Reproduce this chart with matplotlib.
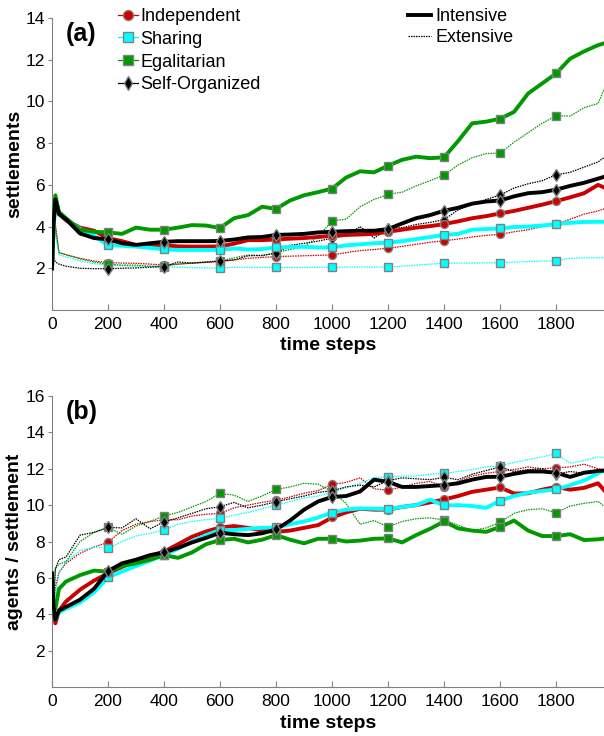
import matplotlib
matplotlib.use("Agg")
import matplotlib.pyplot as plt
from matplotlib.lines import Line2D

plt.rcParams['font.family'] = ['Liberation Sans', 'DejaVu Sans']

# time grid shared by every series
t = [0, 5, 12, 25, 50, 100, 150, 200, 250, 300, 350, 400, 450, 500, 550, 600,
     650, 700, 750, 800, 850, 900, 950, 1000, 1050, 1100, 1150, 1200, 1250, 1300,
     1350, 1400, 1450, 1500, 1550, 1600, 1650, 1700, 1750, 1800, 1850, 1900, 1950, 1975]

strategies = ["Independent", "Sharing", "Egalitarian", "Self-Organized"]
modes = ["Intensive", "Extensive"]
x_ticks = [0, 200, 400, 600, 800, 1000, 1200, 1400, 1600, 1800]
marker_steps = [200, 400, 600, 800, 1000, 1200, 1400, 1600, 1800]

# (a) number of settlements
indep_int_a = [2.0, 4.0, 5.2, 4.6, 4.3, 3.95, 3.8, 3.45, 3.3, 3.12, 3.1, 3.1, 3.05, 3.04, 3.04, 3.05,
               3.18, 3.35, 3.35, 3.38, 3.42, 3.45, 3.5, 3.56, 3.6, 3.62, 3.65, 3.75, 3.85, 3.95,
               4.02, 4.12, 4.25, 4.4, 4.5, 4.63, 4.75, 4.9, 5.05, 5.22, 5.4, 5.6, 6.0, 5.85]
indep_ext_a = [2.0, 3.2, 4.1, 2.75, 2.65, 2.48, 2.35, 2.27, 2.25, 2.24, 2.2, 2.16, 2.2, 2.25, 2.28, 2.32,
               2.4, 2.48, 2.52, 2.56, 2.58, 2.6, 2.62, 2.64, 2.75, 2.85, 2.9, 2.96, 3.05, 3.15,
               3.25, 3.32, 3.4, 3.5, 3.58, 3.63, 3.75, 3.85, 4.0, 4.11, 4.35, 4.6, 4.75, 4.87]
share_int_a = [2.0, 3.8, 5.0, 4.6, 4.35, 3.9, 3.55, 3.11, 3.08, 3.04, 2.98, 2.91, 2.88, 2.88, 2.88, 2.88,
               2.95, 2.9, 2.92, 3.0, 3.02, 3.03, 3.0, 3.0, 3.1, 3.15, 3.2, 3.23, 3.3, 3.4,
               3.5, 3.6, 3.65, 3.85, 3.88, 3.91, 3.98, 4.0, 4.05, 4.12, 4.18, 4.22, 4.23, 4.23]
share_ext_a = [2.0, 3.0, 3.6, 2.65, 2.55, 2.35, 2.22, 2.16, 2.12, 2.1, 2.08, 2.08, 2.05, 2.03, 2.02, 2.0,
               2.05, 2.05, 2.05, 2.04, 2.04, 2.04, 2.05, 2.05, 2.06, 2.06, 2.06, 2.06, 2.1, 2.15,
               2.2, 2.24, 2.25, 2.25, 2.26, 2.27, 2.3, 2.32, 2.34, 2.36, 2.48, 2.5, 2.5, 2.51]
egal_int_a = [2.0, 4.5, 5.5, 4.7, 4.4, 3.85, 3.75, 3.72, 3.65, 3.95, 3.85, 3.85, 3.95, 4.07, 4.05, 3.93,
              4.4, 4.55, 4.95, 4.85, 5.25, 5.5, 5.65, 5.82, 6.35, 6.65, 6.6, 6.92, 7.2, 7.35,
              7.28, 7.32, 8.1, 8.95, 9.03, 9.17, 9.5, 10.38, 10.86, 11.34, 12.05, 12.4, 12.7, 12.8]
egal_ext_a = [2.0, 3.0, 4.0, 2.75, 2.65, 2.45, 2.3, 2.2, 2.15, 2.15, 2.1, 2.1, 2.2, 2.25, 2.3, 2.35,
              2.5, 2.64, 2.6, 2.75, 2.9, 3.05, 3.5, 4.28, 4.35, 4.95, 5.3, 5.54, 5.65, 5.95,
              6.2, 6.47, 6.95, 7.3, 7.5, 7.52, 8.05, 8.5, 8.95, 9.31, 9.3, 9.7, 9.9, 10.7]
self_int_a = [2.0, 4.0, 5.3, 4.6, 4.35, 3.67, 3.45, 3.39, 3.2, 3.12, 3.2, 3.27, 3.3, 3.3, 3.3, 3.31,
              3.38, 3.48, 3.5, 3.6, 3.62, 3.65, 3.72, 3.75, 3.78, 3.8, 3.8, 3.88, 4.15, 4.4,
              4.55, 4.76, 4.9, 5.1, 5.2, 5.25, 5.45, 5.6, 5.65, 5.77, 5.95, 6.1, 6.3, 6.4]
self_ext_a = [2.0, 2.6, 2.3, 2.2, 2.1, 2.0, 1.98, 1.98, 2.0, 2.02, 2.05, 2.08, 2.3, 2.25, 2.3, 2.35,
              2.4, 2.6, 2.62, 2.72, 3.1, 3.2, 3.3, 3.45, 3.55, 4.0, 3.45, 3.9, 3.95, 4.1,
              4.2, 4.33, 4.8, 5.05, 5.3, 5.51, 5.85, 6.05, 6.2, 6.48, 6.6, 6.85, 7.1, 7.35]

# (b) agents per settlement
indep_int_b = [6.0, 4.2, 3.5, 4.2, 4.7, 5.35, 5.85, 6.25, 6.6, 6.95, 7.2, 7.44, 7.85, 8.26, 8.55, 8.77,
               8.85, 8.75, 8.6, 8.53, 8.6, 8.75, 8.9, 9.32, 9.6, 9.8, 9.75, 9.75, 9.9, 10.0,
               10.15, 10.31, 10.5, 10.73, 10.85, 10.97, 10.64, 10.65, 10.85, 11.0, 10.85, 10.95, 11.2, 10.75]
indep_ext_b = [6.0, 4.2, 5.5, 6.3, 6.8, 7.35, 7.7, 7.95, 8.6, 8.95, 9.1, 9.18, 9.2, 9.4, 9.5, 9.54,
               9.85, 10.0, 10.15, 10.27, 10.45, 10.65, 10.8, 11.14, 11.25, 11.5, 10.9, 10.82, 11.0, 11.2,
               11.3, 11.0, 11.3, 11.6, 11.75, 11.85, 11.95, 12.1, 12.0, 12.05, 12.1, 12.25, 12.0, 11.95]
share_int_b = [6.1, 4.4, 3.7, 4.1, 4.3, 4.65, 5.2, 6.03, 6.35, 6.65, 6.95, 7.25, 7.6, 8.0, 8.35, 8.63,
               8.63, 8.7, 8.75, 8.77, 8.95, 9.1, 9.32, 9.58, 9.75, 9.82, 9.8, 9.78, 9.9, 10.0,
               10.3, 9.98, 10.0, 9.95, 9.85, 10.24, 10.5, 10.68, 10.78, 10.86, 11.1, 11.35, 11.75, 11.95]
share_ext_b = [6.0, 4.3, 5.0, 6.3, 6.9, 7.5, 7.7, 7.62, 8.0, 8.3, 8.45, 8.63, 8.95, 9.1, 9.2, 9.27,
               9.45, 9.6, 9.8, 10.0, 10.2, 10.4, 10.5, 10.7, 10.95, 11.2, 11.5, 11.55, 11.6, 11.6,
               11.7, 11.74, 11.85, 11.95, 12.1, 12.15, 12.35, 12.5, 12.65, 12.84, 12.3, 12.45, 12.65, 12.6]
egal_int_b = [6.0, 4.5, 4.3, 5.4, 5.8, 6.15, 6.4, 6.34, 6.65, 6.8, 7.0, 7.25, 7.1, 7.4, 7.85, 8.08,
              8.15, 7.95, 8.1, 8.35, 8.1, 7.9, 8.15, 8.15, 8.0, 8.05, 8.15, 8.17, 7.95, 8.35,
              8.7, 9.1, 8.72, 8.6, 8.53, 8.8, 9.15, 8.6, 8.3, 8.3, 8.4, 8.08, 8.12, 8.17]
egal_ext_b = [6.0, 4.5, 6.5, 6.75, 6.9, 8.0, 8.5, 8.77, 8.4, 8.85, 9.1, 9.4, 9.6, 9.9, 10.2, 10.64,
              10.55, 10.2, 10.5, 10.86, 11.0, 11.2, 11.15, 10.75, 10.1, 8.95, 9.15, 8.81, 9.1, 9.25,
              9.3, 9.18, 8.9, 8.6, 8.75, 9.05, 9.55, 9.75, 9.8, 9.58, 9.95, 10.1, 10.2, 9.9]
self_int_b = [6.25, 4.5, 3.7, 4.2, 4.4, 4.8, 5.4, 6.37, 6.8, 7.0, 7.25, 7.4, 7.65, 7.95, 8.2, 8.48,
              8.4, 8.35, 8.45, 8.66, 9.15, 9.75, 10.2, 10.45, 10.5, 10.75, 11.4, 11.28, 11.0, 11.0,
              11.05, 11.1, 11.2, 11.4, 11.55, 11.56, 11.72, 11.85, 11.85, 11.78, 11.55, 11.78, 11.88, 11.9]
self_ext_b = [6.2, 4.5, 6.5, 7.0, 7.15, 8.35, 8.5, 8.77, 8.75, 9.25, 8.7, 9.08, 9.3, 9.55, 9.8, 9.91,
              10.15, 9.85, 10.0, 10.18, 10.35, 10.5, 10.7, 10.79, 11.0, 11.1, 11.0, 11.35, 11.5, 11.45,
              11.4, 11.52, 11.4, 11.7, 11.9, 12.1, 11.85, 11.95, 12.0, 11.7, 11.85, 11.75, 11.9, 11.95]

colors = {"Independent": "#cc0000", "Sharing": "#00ffff",
          "Egalitarian": "#009900", "Self-Organized": "#000000"}
markers = {"Independent": "o", "Sharing": "s", "Egalitarian": "s", "Self-Organized": "d"}
msize = {"Independent": 5.8, "Sharing": 5.2, "Egalitarian": 5.2, "Self-Organized": 6.5}
legend_msize = {"Independent": 7.2, "Sharing": 6.5, "Egalitarian": 6.5, "Self-Organized": 7.0}
edge = "#808080"

panel_a = {"Independent": (indep_int_a, indep_ext_a), "Sharing": (share_int_a, share_ext_a),
           "Egalitarian": (egal_int_a, egal_ext_a), "Self-Organized": (self_int_a, self_ext_a)}
panel_b = {"Independent": (indep_int_b, indep_ext_b), "Sharing": (share_int_b, share_ext_b),
           "Egalitarian": (egal_int_b, egal_ext_b), "Self-Organized": (self_int_b, self_ext_b)}

mark_idx = [t.index(s) for s in marker_steps]

fig = plt.figure(figsize=(6.04, 7.36), dpi=100)
ax_a = fig.add_axes([52 / 604, 1 - 310 / 736, 552 / 604, 292 / 736])
ax_b = fig.add_axes([52 / 604, 1 - 687 / 736, 552 / 604, 291 / 736])

dotted = (0, (1.2, 0.8))


def draw(ax, data, ymax, ylabel, tag):
    for name in strategies:
        vi, ve = data[name]
        c = colors[name]
        ax.plot(t, ve, color=c, lw=0.9, ls=dotted, marker=markers[name], ms=msize[name],
                mfc=c, mec=edge, mew=1.0, markevery=mark_idx, zorder=2)
        ax.plot(t, vi, color=c, lw=2.8, ls='-', marker=markers[name], ms=msize[name],
                mfc=c, mec=edge, mew=1.0, markevery=mark_idx, zorder=3)
    ax.set_xlim(0, 1971)
    ax.set_ylim(0, ymax)
    ax.set_xticks(x_ticks)
    ax.set_yticks(range(2, ymax + 1, 2))
    for s in ["top", "right"]:
        ax.spines[s].set_visible(False)
    for s in ["left", "bottom"]:
        ax.spines[s].set_color(edge)
        ax.spines[s].set_linewidth(0.8)
    ax.tick_params(axis='x', direction='in', length=4, color=edge, labelsize=12.5, pad=5)
    ax.tick_params(axis='y', direction='out', length=3, color=edge, labelsize=12.5, pad=2)
    ax.set_xlabel("time steps", fontsize=14, fontweight='bold', labelpad=4)
    ax.set_ylabel(ylabel, fontsize=14, fontweight='bold')
    ax.yaxis.set_label_coords(-29 / 552, 0.5)
    ax.text(0.025, 0.985, tag, transform=ax.transAxes, fontsize=18, fontweight='bold',
            ha='left', va='top')


draw(ax_a, panel_a, 14, "settlements", "(a)")
draw(ax_b, panel_b, 16, "agents / settlement", "(b)")

strategy_handles = [Line2D([], [], color=colors[n], lw=0.9, marker=markers[n], ms=legend_msize[n],
                           mfc=colors[n], mec=edge, mew=1.0) for n in strategies]
leg1 = ax_a.legend(strategy_handles, strategies, loc='upper left', frameon=False,
                   bbox_to_anchor=(118 / 604, 1 - 8 / 736), bbox_transform=fig.transFigure,
                   fontsize=13, handlelength=1.1, handletextpad=0.15, labelspacing=0.32,
                   borderpad=0, borderaxespad=0)
ax_a.add_artist(leg1)
mode_handles = [Line2D([], [], color='black', lw=2.8), Line2D([], [], color='black', lw=0.9, ls=dotted)]
ax_a.legend(mode_handles, modes, loc='upper left', frameon=False,
            bbox_to_anchor=(408 / 604, 1 - 8 / 736), bbox_transform=fig.transFigure,
            fontsize=13, handlelength=1.3, handletextpad=0.2, labelspacing=0.22,
            borderpad=0, borderaxespad=0)

fig.savefig("out.png", dpi=100)
